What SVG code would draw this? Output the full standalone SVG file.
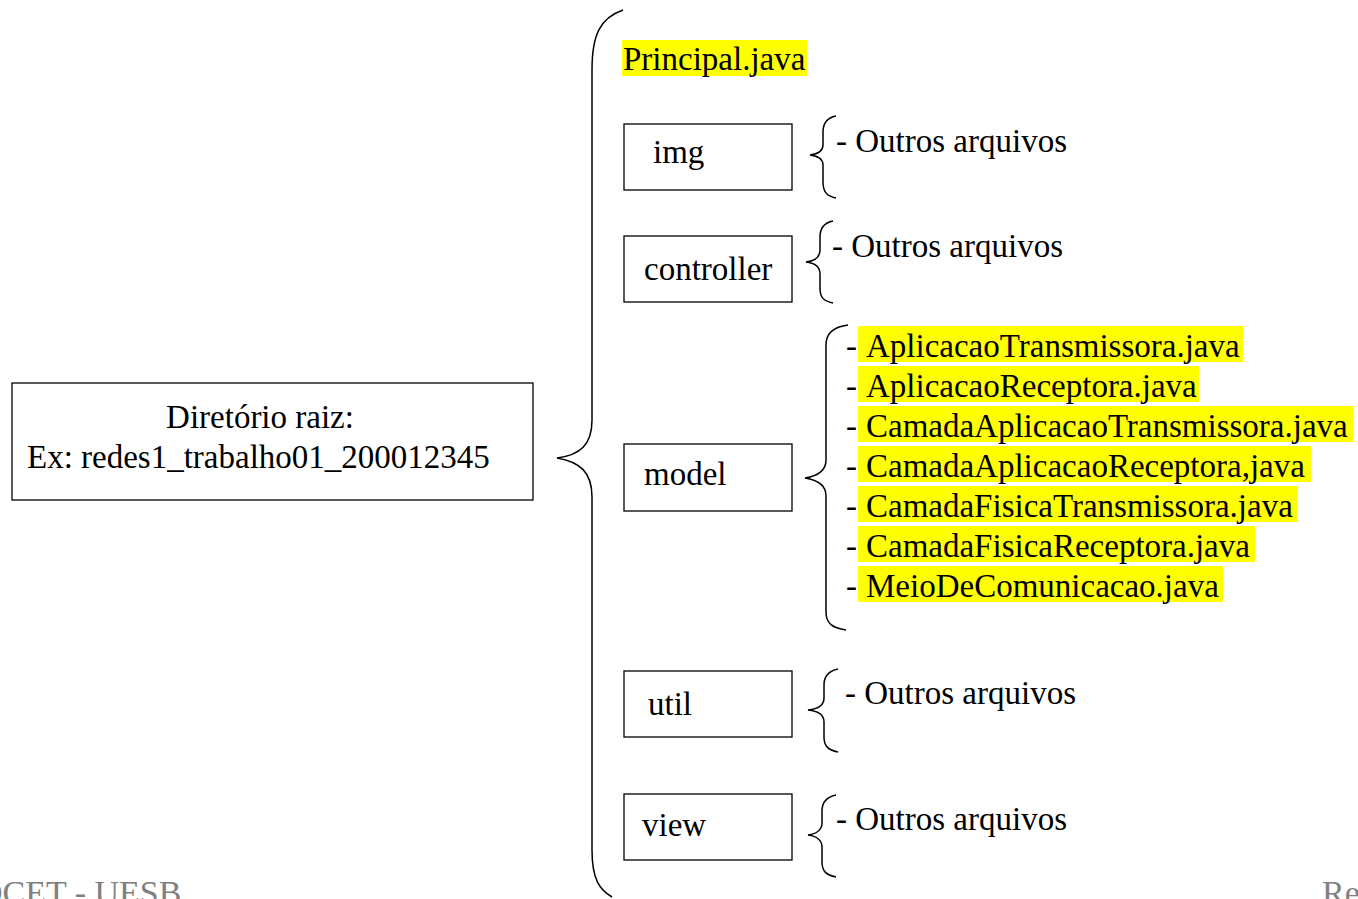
<svg xmlns="http://www.w3.org/2000/svg" width="1358" height="899" viewBox="0 0 1358 899">
<style>
text{font-family:"Liberation Serif","Times New Roman",serif;font-size:33px;fill:#000}
.box{fill:#fff;stroke:#000;stroke-width:1.3}
.br{fill:none;stroke:#000;stroke-width:1.5}
.hl{fill:#ffff00}
.ft{fill:#808080;font-size:34px}
</style>
<rect width="1358" height="899" fill="#fff"/>
<g id="connectors">
<path class="br" d="M623,10 C600,18 592,35 592,70 L592,420 C592,445 580,455 557,458 C580,462 592,472 592,497 L592,850 C592,880 600,890 612,897"/>
<path class="br" d="M836,116 C826,118 823,124 823,132 L823,145 C823,151 818,154 810,155 C818,156 823,159 823,165 L823,182 C823,191 826,196 836,198"/>
<path class="br" d="M833,221 C823,223 820,229 820,237 L820,250 C820,257 815,261 806,262 C815,263 820,267 820,274 L820,288 C820,297 823,301 833,303"/>
<path class="br" d="M848,325 C832,327 826,334 826,345 L826,460 C826,471 818,476 805,478 C818,480 826,485 826,496 L826,612 C826,623 832,628 846,630"/>
<path class="br" d="M838,669 C828,671 824,677 824,685 L824,698 C824,705 818,709 808,710 C818,711 824,715 824,722 L824,737 C824,746 828,750 838,752"/>
<path class="br" d="M836,795 C826,797 822,803 822,811 L822,823 C822,830 816,834 808,835 C816,836 822,840 822,847 L822,862 C822,871 826,875 836,877"/>
</g>
<g id="root">
<rect class="box" x="12" y="383" width="521" height="117"/>
<text x="260" y="428" text-anchor="middle">Diretório raiz:</text>
<text x="27" y="468">Ex: redes1_trabalho01_200012345</text>
</g>
<g id="principal">
<rect class="hl" x="622" y="40" width="185" height="36"/>
<text x="623" y="70">Principal.java</text>
</g>
<g id="img">
<rect class="box" x="624" y="124" width="168" height="66"/>
<text x="653" y="163">img</text>
<text x="836" y="152">- Outros arquivos</text>
</g>
<g id="controller">
<rect class="box" x="624" y="236" width="168" height="66"/>
<text x="644" y="280">controller</text>
<text x="832" y="257">- Outros arquivos</text>
</g>
<g id="model">
<rect class="box" x="624" y="444" width="168" height="67"/>
<text x="644" y="485">model</text>
<rect class="hl" x="858" y="326" width="385" height="36"/>
<rect class="hl" x="858" y="366" width="341" height="36"/>
<rect class="hl" x="858" y="406" width="495" height="36"/>
<rect class="hl" x="858" y="446" width="453" height="36"/>
<rect class="hl" x="858" y="486" width="440" height="36"/>
<rect class="hl" x="858" y="526" width="397" height="36"/>
<rect class="hl" x="858" y="566" width="365" height="36"/>
<text x="846" y="357">- </text><text x="866" y="357">AplicacaoTransmissora.java</text>
<text x="846" y="397">- </text><text x="866" y="397">AplicacaoReceptora.java</text>
<text x="846" y="437">- </text><text x="866" y="437">CamadaAplicacaoTransmissora.java</text>
<text x="846" y="477">- </text><text x="866" y="477">CamadaAplicacaoReceptora,java</text>
<text x="846" y="517">- </text><text x="866" y="517">CamadaFisicaTransmissora.java</text>
<text x="846" y="557">- </text><text x="866" y="557">CamadaFisicaReceptora.java</text>
<text x="846" y="597">- </text><text x="866" y="597">MeioDeComunicacao.java</text>
</g>
<g id="util">
<rect class="box" x="624" y="671" width="168" height="66"/>
<text x="648" y="715">util</text>
<text x="845" y="704">- Outros arquivos</text>
</g>
<g id="view">
<rect class="box" x="624" y="794" width="168" height="66"/>
<text x="642" y="836">view</text>
<text x="836" y="830">- Outros arquivos</text>
</g>
<g id="footer">
<text class="ft" x="-22" y="904">DCET - UESB</text>
<text class="ft" x="1322" y="904">Redes</text>
</g>
</svg>
